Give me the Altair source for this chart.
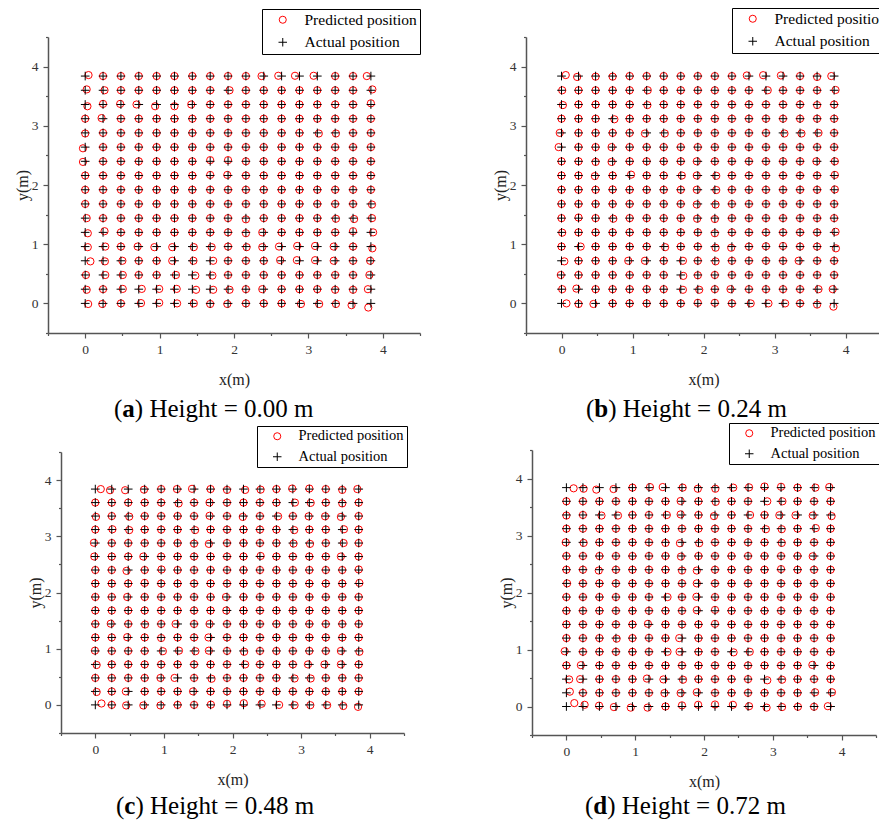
import altair as alt
import pandas as pd

# Test grid: 17 x 17 reference points, 0.24 m apart, used on both axes
GRID_M = [0.00, 0.24, 0.48, 0.72, 0.96, 1.20, 1.44, 1.68, 1.92, 2.16,
          2.40, 2.64, 2.88, 3.12, 3.36, 3.60, 3.84]
AXIS_TICKS = [-0.5, 0.0, 0.5, 1.0, 1.5, 2.0, 2.5, 3.0, 3.5, 4.0, 4.5]
SERIES = ["Predicted position", "Actual position"]
PANEL_LETTERS = ["a", "b", "c", "d"]
PANEL_HEIGHTS = ["0.00", "0.24", "0.48", "0.72"]

# Positioning error of the predicted points: (row, col, dx [m], dy [m]).
# Points not listed were predicted on top of the actual position.
ERR_A = [
    (16, 0, .045, .017), (16, 10, -.03, 0), (16, 11, -.045, .005), (16, 12, -.06, .005),
    (16, 13, -.05, .005), (16, 16, -.055, 0),
    (15, 0, .02, .015), (15, 1, .02, 0), (15, 8, .02, 0), (15, 16, .02, .015),
    (14, 0, .03, -.03), (14, 1, 0, .01), (14, 2, -.01, .01), (14, 3, -.03, 0), (14, 4, -.02, -.03),
    (14, 5, 0, -.03), (14, 6, -.015, 0), (14, 16, 0, .02),
    (13, 1, -.02, .01),
    (12, 0, 0, -.01), (12, 13, .02, -.01), (12, 14, .01, -.01),
    (11, 0, -.03, -.02),
    (10, 0, -.03, -.01), (10, 7, 0, .02), (10, 8, 0, .02),
    (9, 7, 0, .01), (9, 8, -.01, .01),
    (7, 16, .015, -.01),
    (6, 0, .02, 0), (6, 9, 0, -.02), (6, 14, .01, -.01), (6, 15, .015, -.015), (6, 16, .015, 0),
    (5, 0, .035, -.015), (5, 1, .02, .02), (5, 9, 0, -.015), (5, 10, -.02, 0), (5, 15, 0, .02),
    (5, 16, .03, 0),
    (4, 0, .035, -.01), (4, 1, .03, 0), (4, 3, -.015, 0), (4, 4, -.03, -.01), (4, 5, -.03, -.01),
    (4, 6, .02, -.01), (4, 7, .02, -.01), (4, 9, .01, -.01), (4, 10, -.02, -.01), (4, 11, -.035, 0),
    (4, 12, -.03, .01), (4, 13, -.03, .01), (4, 14, -.02, 0), (4, 16, .02, -.03),
    (3, 0, .07, -.01), (3, 1, .025, -.01), (3, 2, .02, 0), (3, 5, -.03, 0), (3, 6, .015, 0),
    (3, 7, .04, 0), (3, 11, -.02, .01), (3, 12, -.035, .01), (3, 13, -.03, .01), (3, 14, -.02, 0),
    (3, 16, -.01, 0),
    (2, 0, .01, 0), (2, 1, .03, 0), (2, 2, .025, 0), (2, 5, .02, 0), (2, 6, .04, -.01),
    (2, 7, .03, -.01), (2, 16, -.02, 0),
    (1, 0, .02, -.01), (1, 2, .025, .005), (1, 3, .04, .005), (1, 4, .035, .005), (1, 5, .03, .005),
    (1, 6, .05, -.01), (1, 7, .04, -.01), (1, 8, .02, -.01), (1, 10, -.02, 0), (1, 14, 0, -.01),
    (1, 15, 0, -.01), (1, 16, -.04, 0),
    (0, 0, .04, -.01), (0, 1, -.01, -.01), (0, 3, .03, .005), (0, 4, .035, .01), (0, 5, .035, 0),
    (0, 6, .02, 0), (0, 7, 0, -.01), (0, 8, -.01, -.01), (0, 12, .02, -.01), (0, 13, .025, -.01),
    (0, 14, .01, -.01), (0, 15, -.02, -.03), (0, 16, -.035, -.07),
]
ERR_B = [
    (16, 0, .06, .017), (16, 1, -.02, -.015), (16, 2, 0, -.01), (16, 3, 0, -.01), (16, 11, -.03, .01),
    (16, 12, -.04, .015), (16, 13, -.03, .01), (16, 15, 0, -.015), (16, 16, -.04, 0),
    (15, 0, .01, 0), (15, 5, .015, 0), (15, 12, .025, 0), (15, 16, .02, .005),
    (14, 0, .02, -.01), (14, 5, .01, -.01), (14, 15, 0, -.01),
    (13, 3, .025, -.01),
    (12, 0, -.025, 0), (12, 5, -.025, -.01), (12, 6, .015, -.01), (12, 13, .02, -.01),
    (12, 14, .02, -.01), (12, 15, .02, 0),
    (11, 0, -.04, 0), (11, 3, -.015, 0),
    (10, 2, 0, -.01), (10, 3, -.015, -.01), (10, 8, -.015, 0), (10, 15, -.01, 0), (10, 16, .01, 0),
    (9, 2, -.01, -.01), (9, 4, .02, .015), (9, 7, .015, 0), (9, 8, -.015, 0), (9, 9, .02, -.005),
    (9, 16, .01, .01),
    (8, 3, 0, .005), (8, 8, -.015, 0), (8, 9, .02, -.005), (8, 16, .01, .005),
    (7, 8, -.015, -.01), (7, 9, .01, -.01),
    (6, 1, 0, .01), (6, 3, .01, -.01), (6, 8, -.01, -.01), (6, 9, 0, -.015),
    (5, 0, .01, -.005), (5, 9, 0, -.015), (5, 16, .02, .01),
    (4, 1, .03, 0), (4, 6, .02, -.01), (4, 9, .01, -.02), (4, 10, -.01, -.02), (4, 12, 0, .005),
    (4, 13, 0, .01), (4, 16, .025, -.03),
    (3, 0, .04, -.01), (3, 4, -.02, 0), (3, 5, -.025, 0), (3, 7, .03, 0), (3, 9, .01, -.01),
    (3, 14, -.02, 0),
    (2, 0, -.01, 0), (2, 7, .035, -.015), (2, 8, 0, -.005),
    (1, 0, .01, 0), (1, 1, -.03, .01), (1, 7, .03, -.01), (1, 8, .02, -.01), (1, 10, -.02, 0),
    (1, 15, .02, 0), (1, 16, -.02, 0),
    (0, 0, .07, 0), (0, 1, 0, -.01), (0, 2, -.03, -.01), (0, 8, 0, .01), (0, 9, 0, .01),
    (0, 11, .025, 0), (0, 12, .035, 0), (0, 13, .03, 0), (0, 15, 0, -.02), (0, 16, -.01, -.055),
]
ERR_C = [
    (16, 0, .08, 0), (16, 1, -.025, -.02), (16, 2, -.045, -.02), (16, 3, -.01, -.01), (16, 5, -.01, 0),
    (16, 6, -.03, .005), (16, 8, 0, -.015), (16, 9, .025, -.015), (16, 10, .01, -.01),
    (16, 12, -.01, .01), (16, 13, 0, .01), (16, 15, 0, -.015), (16, 16, -.02, 0),
    (15, 5, .015, -.015), (15, 7, -.015, 0), (15, 12, .03, 0), (15, 13, .02, -.005), (15, 15, 0, -.015),
    (14, 0, .01, -.015), (14, 2, .015, -.01), (14, 7, -.015, .005), (14, 9, -.01, -.015),
    (14, 11, .025, -.005), (14, 13, -.01, -.005), (14, 14, -.01, -.005), (14, 15, -.02, -.015),
    (13, 1, .01, .005), (13, 2, .015, -.01), (13, 6, .015, -.01), (13, 12, .02, -.01), (13, 15, .025, .005),
    (12, 0, -.02, .005), (12, 6, 0, -.01), (12, 7, -.025, -.015), (12, 12, .01, -.01),
    (12, 13, .01, -.015), (12, 15, .02, 0),
    (11, 0, -.015, 0), (11, 3, -.02, 0), (11, 10, .01, .01), (11, 15, -.02, 0),
    (10, 2, -.025, -.015), (10, 4, .005, .01), (10, 16, 0, .01),
    (9, 3, 0, .01), (9, 16, .01, .01),
    (8, 2, -.015, 0), (8, 8, -.015, 0),
    (7, 8, -.01, 0),
    (6, 1, -.015, .005), (6, 3, .005, -.01), (6, 5, -.03, 0), (6, 7, -.015, 0),
    (5, 2, -.015, .005), (5, 4, 0, -.01), (5, 7, -.03, 0),
    (4, 0, -.005, .005), (4, 4, .025, -.005), (4, 5, .02, .005), (4, 6, .02, -.005), (4, 7, -.025, .005),
    (4, 9, .01, -.015), (4, 15, -.02, 0), (4, 16, .01, -.015),
    (3, 0, .02, -.01), (3, 9, .025, 0), (3, 13, -.02, 0), (3, 14, -.02, 0), (3, 15, -.02, 0),
    (2, 4, -.01, 0), (2, 5, -.045, 0), (2, 7, .015, -.015), (2, 12, .025, -.01), (2, 13, .02, -.01),
    (1, 0, .02, -.01), (1, 2, -.035, 0), (1, 6, -.015, 0),
    (0, 0, .09, .025), (0, 2, -.03, -.01), (0, 3, -.02, -.01), (0, 4, -.01, -.01), (0, 7, .005, .005),
    (0, 8, 0, .02), (0, 9, .005, .03), (0, 10, .025, .02), (0, 11, .04, 0), (0, 12, .025, -.005),
    (0, 13, .015, -.005), (0, 14, .02, -.005), (0, 15, .015, -.02), (0, 16, -.01, -.035),
]
ERR_D = [
    (16, 0, .105, -.012), (16, 1, .01, -.02), (16, 2, -.045, -.035), (16, 3, -.035, -.025),
    (16, 5, .015, .01), (16, 6, -.04, .01), (16, 7, .01, 0), (16, 8, -.01, -.02), (16, 9, .005, -.02),
    (16, 10, .025, 0), (16, 11, .015, .005), (16, 12, 0, .02), (16, 13, 0, .015), (16, 15, .02, 0),
    (16, 16, -.02, .01),
    (15, 7, -.02, .005), (15, 9, .01, -.01), (15, 12, .04, 0), (15, 13, .02, 0),
    (14, 0, 0, -.01), (14, 2, .03, -.01), (14, 3, .03, -.01), (14, 6, .02, 0), (14, 7, -.02, .01),
    (14, 9, -.015, -.02), (14, 11, .03, 0), (14, 13, -.025, -.005), (14, 14, -.03, -.005),
    (14, 15, -.02, -.01), (14, 16, .015, -.02),
    (13, 12, .02, -.01), (13, 13, .01, -.01), (13, 15, .025, .01),
    (12, 0, -.01, 0), (12, 1, .01, -.01), (12, 6, 0, -.01), (12, 7, -.03, -.015), (12, 8, .01, -.015),
    (12, 13, .01, -.01),
    (11, 7, -.015, -.01), (11, 15, -.02, -.005),
    (10, 2, -.01, -.015), (10, 7, 0, -.015), (10, 8, -.025, -.015), (10, 13, 0, .01),
    (9, 0, .01, 0), (9, 8, -.025, 0),
    (8, 6, .03, 0), (8, 8, -.03, .005),
    (7, 8, -.025, .01), (7, 9, 0, .015),
    (6, 5, -.015, .01), (6, 9, 0, .01),
    (5, 3, .01, -.01), (5, 5, 0, .005), (5, 7, -.04, 0),
    (4, 0, -.025, .01), (4, 6, .03, 0), (4, 7, -.035, 0), (4, 10, .03, -.01), (4, 11, .025, 0),
    (3, 1, -.03, .005), (3, 15, -.025, .01),
    (2, 0, .04, -.005), (2, 1, -.04, 0), (2, 5, -.03, .01), (2, 6, -.03, -.005), (2, 7, .015, -.01),
    (2, 12, .04, -.02), (2, 13, .015, -.01),
    (1, 0, .05, .02), (1, 6, -.015, -.005), (1, 7, -.02, -.005), (1, 8, -.025, .01),
    (1, 15, .015, .01), (1, 16, .02, .01),
    (0, 0, .115, .06), (0, 1, .025, .03), (0, 2, -.005, .015), (0, 3, -.03, -.01), (0, 4, -.025, -.02),
    (0, 5, -.02, -.02), (0, 7, 0, .02), (0, 8, -.005, .03), (0, 9, 0, .035), (0, 10, .02, .03),
    (0, 11, .015, .005), (0, 12, .03, -.02), (0, 13, .015, -.01), (0, 14, .005, -.005),
    (0, 15, 0, -.005), (0, 16, -.04, .005),
]
PANEL_ERRORS = [ERR_A, ERR_B, ERR_C, ERR_D]

# ---- page layout (pixels) ----
CANVAS_W, CANVAS_H = 879, 823
SERIF = "Liberation Serif"
CROSS = "M-1.2,0H1.2M0,-1.2V1.2"
PANELS = [
    {"x": (48, 420), "y": (333, 37), "legend": (262, 9), "legend_font": 15.5, "row_gap": 5.5,
     "caption": (114, 417)},
    {"x": (526, 881), "y": (333, 37), "legend": (732, 8), "legend_font": 15.5, "row_gap": 5.5,
     "caption": (586, 417)},
    {"x": (61, 404), "y": (733, 452), "legend": (257, 426), "legend_font": 14.5, "row_gap": 5.5,
     "caption": (116, 814)},
    {"x": (532, 876), "y": (735, 450), "legend": (729, 423), "legend_font": 14.5, "row_gap": 5.5,
     "caption": (585, 814)},
]
CAPTION_SIZE = 25
# advance widths (em) of the caption pieces in the serif face
PAREN_EM = 0.333
BOLD_EM = {"a": 0.500, "b": 0.556, "c": 0.444, "d": 0.556}

LABEL_EXPR = "datum.value % 1 === 0 ? format(datum.value, 'd') : ''"
TICK_SIZE = {"condition": {"test": "datum.value % 1 !== 0", "value": 2.5}, "value": 5}


def build_frame(errors):
    err = {(r, c): (dx, dy) for r, c, dx, dy in errors}
    pred, act = [], []
    for r, gy in enumerate(GRID_M):
        for c, gx in enumerate(GRID_M):
            dx, dy = err.get((r, c), (0.0, 0.0))
            pred.append({"x": round(gx + dx, 4), "y": round(gy + dy, 4), "kind": SERIES[0]})
            act.append({"x": gx, "y": gy, "kind": SERIES[1]})
    # predicted circles first so the crosses are drawn over them
    return pd.DataFrame(pred + act)


def axis_common():
    return dict(
        values=AXIS_TICKS, labelExpr=LABEL_EXPR, tickSize=TICK_SIZE, grid=False,
        labelOverlap=False, labelFlush=False, labelFont=SERIF, labelFontSize=13.5,
        labelColor="#333333", titleFont=SERIF, titleFontSize=16, titleFontWeight="normal",
        titleColor="#222222", domainColor="#555555", domainWidth=1.5, tickColor="#555555",
        tickWidth=1.2,
    )


def panel_chart(df, lay):
    xa, xb = lay["x"]
    yb, yt = lay["y"]
    lx, ly = lay["legend"]
    x_axis = alt.Axis(orient="bottom", offset=yb - CANVAS_H, title="x(m)", labelPadding=4,
                      titleY=38, titleBaseline="top", **axis_common())
    y_axis = alt.Axis(orient="left", offset=-xa, title="y(m)", labelPadding=5,
                      titleX=-26, titleBaseline="middle", **axis_common())
    legend = alt.Legend(
        orient="none", legendX=lx, legendY=ly, title=None, strokeColor="black",
        fillColor="white", padding=3, rowPadding=lay["row_gap"], symbolSize=50,
        symbolStrokeWidth=1, symbolOpacity=1, symbolOffset=10, labelOffset=14,
        labelFont=SERIF, labelFontSize=lay["legend_font"], labelColor="black",
    )
    return alt.Chart(df).mark_point(filled=False, size=52, strokeWidth=1, opacity=1).encode(
        x=alt.X("x:Q", scale=alt.Scale(domain=[-0.5, 4.5], range=[xa, xb], nice=False, zero=False),
                axis=x_axis),
        y=alt.Y("y:Q", scale=alt.Scale(domain=[-0.5, 4.5], range=[yb, yt], nice=False, zero=False),
                axis=y_axis),
        color=alt.Color("kind:N", scale=alt.Scale(domain=SERIES, range=["#ff0000", "#000000"]),
                        legend=legend),
        shape=alt.Shape("kind:N", scale=alt.Scale(domain=SERIES, range=["circle", CROSS]),
                        legend=legend),
    )


def caption_layers(letter, height, lay):
    x0, y0 = lay["caption"]
    fs = CAPTION_SIZE
    pieces = [
        ("(", x0, "normal"),
        (letter, x0 + PAREN_EM * fs, "bold"),
        (f") Height = {height} m", x0 + (PAREN_EM + BOLD_EM[letter]) * fs, "normal"),
    ]
    out = []
    for text, px, weight in pieces:
        out.append(
            alt.Chart(alt.Data(values=[{}])).mark_text(
                text=text, font=SERIF, fontSize=fs, fontWeight=weight, align="left",
                baseline="alphabetic", color="black",
            ).encode(x=alt.value(px), y=alt.value(y0))
        )
    return out


layers = []
for err, lay in zip(PANEL_ERRORS, PANELS):
    layers.append(panel_chart(build_frame(err), lay))
for letter, height, lay in zip(PANEL_LETTERS, PANEL_HEIGHTS, PANELS):
    layers.extend(caption_layers(letter, height, lay))

chart = (
    alt.layer(*layers)
    .resolve_scale(x="independent", y="independent", color="independent", shape="independent")
    .resolve_axis(x="independent", y="independent")
    .resolve_legend(color="independent", shape="independent")
    .properties(width=CANVAS_W, height=CANVAS_H, padding=0,
                autosize=alt.AutoSizeParams(type="none"), background="white")
    .configure_view(strokeWidth=0)
)

chart.save("out.html", embed_options={"renderer": "svg", "actions": False})
